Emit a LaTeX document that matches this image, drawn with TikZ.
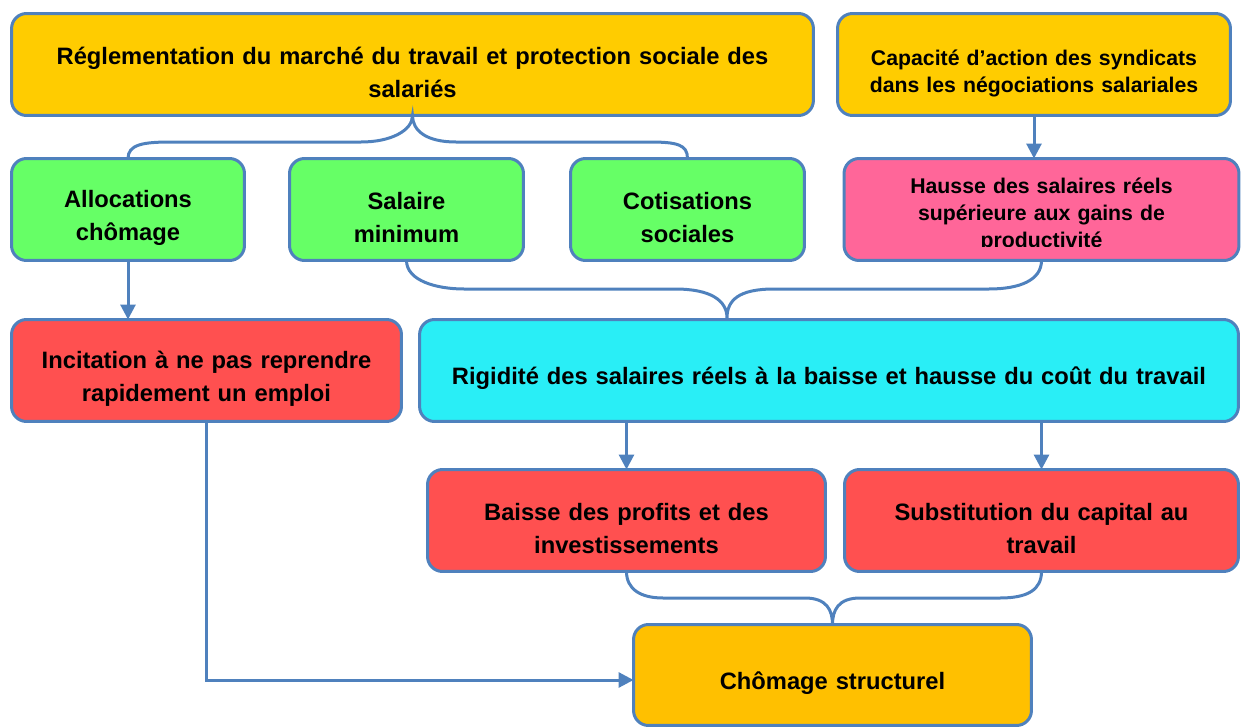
\documentclass[tikz,border=0pt]{standalone}
\usepackage{fontspec}
\setmainfont{Liberation Sans}
\usetikzlibrary{arrows.meta}
\definecolor{edgeblue}{HTML}{4F81BD}
\definecolor{gold}{HTML}{FFCC00}
\definecolor{amber}{HTML}{FFC000}
\definecolor{lime}{HTML}{66FF66}
\definecolor{rose}{HTML}{FF6699}
\definecolor{tomato}{HTML}{FF5050}
\definecolor{cyanfill}{HTML}{29EEF6}

\begin{document}
\begin{tikzpicture}
	[	x=0.02cm,y=-0.02cm,
	box/.style={rectangle,rounded corners=0.3cm,draw=edgeblue,line width=0.06cm,minimum height=2.04cm,outer sep=0pt,inner sep=0pt,align=center,font=\bfseries\fontsize{13.5}{18.8}\selectfont,execute at begin node={\rule{0pt}{19pt}}},
	small/.style={font=\bfseries\fontsize{12.1}{15.3}\selectfont,execute at begin node={\rule{0pt}{13pt}}},
	txt/.style={draw=none,fill=none,align=center,inner sep=0pt,font=\bfseries\fontsize{12.1}{15.3}\selectfont},
	link/.style={draw=edgeblue,line width=0.06cm},
	arrow/.style={link,-{Triangle[width=0.3cm,length=0.3cm]}}
	]
	\useasboundingbox (0,0) rectangle (1242,727);

	\node[box,fill=gold,minimum width=16.04cm,text width=15.6cm] (reg) at (412.5,64.5){Réglementation du marché du travail et protection sociale des\\salariés};
	\node[box,small,fill=gold,minimum width=7.86cm,text width=7.5cm] (synd) at (1034,64.5){Capacité d’action des syndicats\\dans les négociations salariales};

	\node[box,fill=lime,minimum width=4.66cm,text width=4.3cm] (alloc) at (128,209.5){Allocations\\chômage};
	\node[box,fill=lime,minimum width=4.68cm,text width=4.3cm] (salaire) at (406.5,209.5){Salaire\\minimum};
	\node[box,fill=lime,minimum width=4.68cm,text width=4.3cm] (cotis) at (687.5,209.5){Cotisations\\sociales};
	\node[box,fill=rose,minimum width=7.9cm,text width=7.5cm] (hausse) at (1041.5,209.5){};
	\begin{scope}
		\clip (843,157) rectangle (1242,246);
		\node[txt,text width=7.5cm] (hausseTxt) at (1041.5,215){Hausse des salaires réels\\supérieure aux gains de\\productivité};
	\end{scope}

	\node[box,fill=tomato,minimum width=7.8cm,text width=7.4cm] (incit) at (206.5,370.5){Incitation à ne pas reprendre\\rapidement un emploi};
	\node[box,fill=cyanfill,minimum width=16.38cm,text width=16cm] (rigid) at (829,370.5){Rigidité des salaires réels à la baisse et hausse du coût du travail};

	\node[box,fill=tomato,minimum width=7.96cm,text width=7.6cm] (baisse) at (626.5,520.5){Baisse des profits et des\\investissements};
	\node[box,fill=tomato,minimum width=7.88cm,text width=7.5cm] (subst) at (1041.5,520.5){Substitution du capital au\\travail};

	\node[box,fill=amber,minimum width=7.96cm,minimum height=2.02cm,text width=7.6cm] (chomage) at (832.5,675){Chômage structurel};

	\coordinate (fork) at (727,318);

	% accolades
	\draw[link] (alloc.north) .. controls +(0,-14) and +(-28,0) .. (171,142) -- (361,142) .. controls +(30,0) and +(0,15) .. (reg.south)
		.. controls +(0,15) and +(-30,0) .. (456,142) -- (649,142) .. controls +(28,0) and +(0,-14) .. (cotis.north);
	\draw[link] (salaire.south) .. controls +(0,20) and +(-28,0) .. (464,289) -- (675,289) .. controls +(35,0) and +(0,-18) .. (fork)
		.. controls +(0,-18) and +(-35,0) .. (774,289) -- (989,289) .. controls +(30,0) and +(0,20) .. (hausse.south);
	\draw[link] (baisse.south) .. controls +(0,18) and +(-22,0) .. (663,598) -- (805,598) .. controls +(22,0) and +(0,-14) .. (chomage.north)
		.. controls +(0,-14) and +(-22,0) .. (860,598) -- (1000,598) .. controls +(28,0) and +(0,18) .. (subst.south);

	% fleches
	\draw[arrow] (synd.south) -- (synd.south |- hausse.north);
	\draw[arrow] (alloc.south) -- (alloc.south |- incit.north);
	\draw[arrow] (baisse.north |- rigid.south) -- (baisse.north);
	\draw[arrow] (subst.north |- rigid.south) -- (subst.north);
	\draw[arrow] (incit.south) |- ([yshift=-0.1cm]chomage.west);
\end{tikzpicture}
\end{document}
